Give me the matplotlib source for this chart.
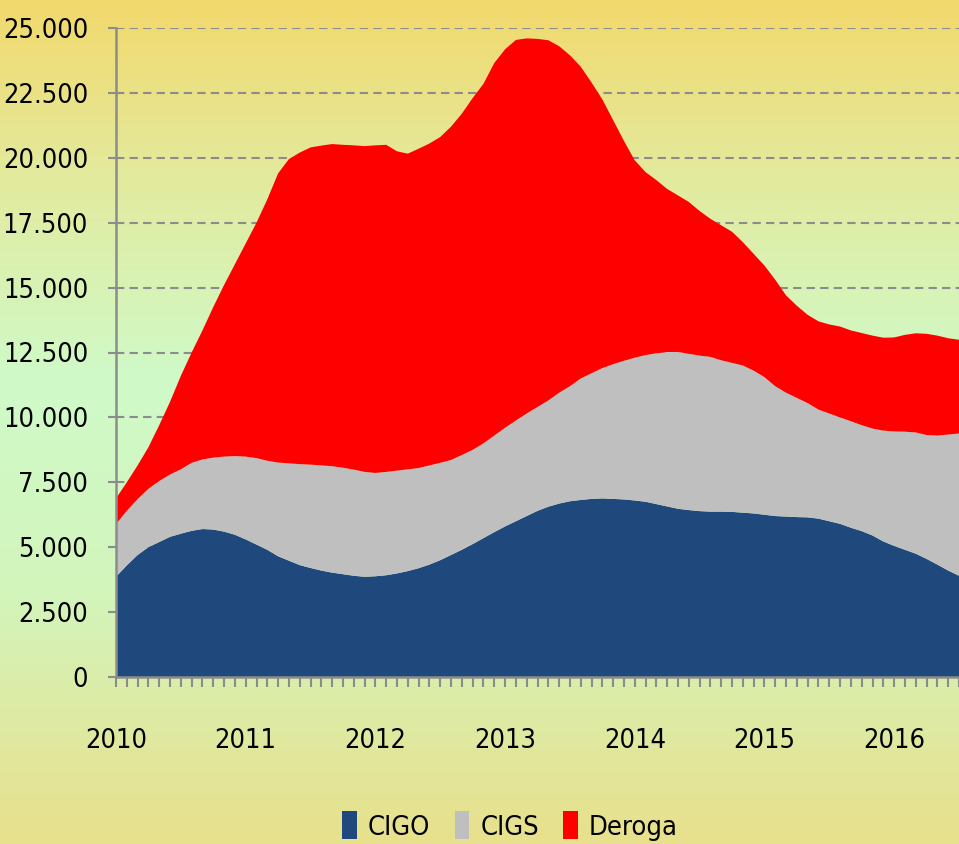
import numpy as np
import matplotlib
matplotlib.use("Agg")
import matplotlib.pyplot as plt
from matplotlib.patches import Patch
from matplotlib.ticker import FixedLocator, FuncFormatter
from matplotlib.colors import LinearSegmentedColormap
from matplotlib import font_manager

# monthly data, Jan 2010 .. Jul 2016
months = np.arange(79)
years = ["2010", "2011", "2012", "2013", "2014", "2015", "2016"]

cigo = [3860, 4300, 4700, 5000, 5200, 5400, 5520, 5630, 5700, 5680,
        5600, 5480, 5300, 5100, 4900, 4650, 4480, 4310, 4200, 4100,
        4020, 3960, 3900, 3860, 3880, 3920, 3990, 4080, 4190, 4330,
        4500, 4700, 4900, 5120, 5350, 5580, 5800, 6000, 6200, 6400,
        6560, 6680, 6770, 6820, 6860, 6880, 6860, 6840, 6800, 6750,
        6660, 6570, 6480, 6430, 6390, 6370, 6370, 6360, 6330, 6300,
        6250, 6200, 6180, 6160, 6150, 6100, 6000, 5900, 5750, 5620,
        5450, 5220, 5050, 4900, 4750, 4550, 4330, 4100, 3900]

cigs = [2030, 2100, 2150, 2250, 2350, 2400, 2480, 2620, 2680, 2770,
        2890, 3030, 3190, 3330, 3430, 3610, 3750, 3890, 3980, 4050,
        4100, 4100, 4090, 4040, 3980, 3980, 3960, 3920, 3860, 3820,
        3750, 3660, 3650, 3630, 3650, 3720, 3800, 3880, 3950, 4000,
        4090, 4270, 4430, 4680, 4840, 5020, 5190, 5340, 5500, 5650,
        5810, 5950, 6040, 6020, 5990, 5960, 5830, 5740, 5670, 5500,
        5300, 5000, 4770, 4590, 4400, 4200, 4150, 4100, 4100, 4080,
        4120, 4270, 4410, 4550, 4670, 4770, 4970, 5240, 5480]

deroga = [990, 1100, 1300, 1600, 2150, 2800, 3600, 4250, 4970, 5800,
          6610, 7390, 8210, 9070, 10070, 11140, 11720, 12000, 12220, 12320,
          12410, 12440, 12490, 12550, 12620, 12600, 12300, 12160, 12300, 12400,
          12550, 12840, 13150, 13550, 13850, 14350, 14580, 14660, 14450, 14180,
          13880, 13350, 12750, 12010, 11200, 10350, 9400, 8470, 7600, 7050,
          6670, 6280, 6030, 5850, 5570, 5320, 5200, 5050, 4750, 4500,
          4300, 4100, 3750, 3550, 3400, 3400, 3430, 3500, 3500, 3550,
          3580, 3580, 3620, 3730, 3820, 3900, 3850, 3710, 3610]

labels = ["CIGO", "CIGS", "Deroga"]
colors = ["#1F497D", "#BFBFBF", "#FF0000"]

# look for a narrow face, the original uses a condensed font
narrow = None
for f in font_manager.fontManager.ttflist:
    tag = (f.name + " " + f.fname).lower()
    if f.style == "normal" and f.weight in (400, "normal", "regular") and \
            ("narrow" in tag or "condensed" in tag or f.stretch in ("condensed", "semi-condensed")):
        if "bold" in tag or "light" in tag or "oblique" in tag or "italic" in tag:
            continue
        narrow = f.fname
        break

if narrow:
    tfont = font_manager.FontProperties(fname=narrow, size=19.5)
else:
    tfont = font_manager.FontProperties(family="Liberation Sans", size=18)

W, H = 959, 844
fig = plt.figure(figsize=(W / 100, H / 100), dpi=100)

# background gradient
bg = fig.add_axes([0, 0, 1, 1], zorder=-10)
cmap = LinearSegmentedColormap.from_list(
    "bg",
    [(0.0, "#F2D96C"), (0.22, "#E2EBA0"), (0.45, "#CFFAC8"),
     (0.70, "#D3F5BC"), (1.0, "#E8E08C")])
bg.imshow(np.linspace(0, 1, 256).reshape(-1, 1), aspect="auto", cmap=cmap,
          extent=[0, 1, 0, 1])
bg.set_axis_off()

ax = fig.add_axes([116 / W, 167 / H, 843 / W, 649 / H])
ax.patch.set_alpha(0)
ax.stackplot(months, cigo, cigs, deroga, colors=colors, labels=labels,
             linewidth=0, zorder=2)

ax.set_xlim(0, 77.5)
ax.set_ylim(0, 25000)

ax.yaxis.set_major_locator(FixedLocator(np.arange(0, 25001, 2500)))
ax.yaxis.set_major_formatter(FuncFormatter(lambda v, p: f"{int(v):,}".replace(",", ".")))
ax.grid(axis="y", color="#8C8C8C", linewidth=1.5, linestyle=(0, (4, 2.5)), zorder=1)
ax.set_axisbelow(True)

ax.set_xticks(months[::12])
ax.set_xticklabels(years)
ax.set_xticks(months, minor=True)

for s in ["top", "right"]:
    ax.spines[s].set_visible(False)
for s in ["left", "bottom"]:
    ax.spines[s].set_color("#8C8C8C")
    ax.spines[s].set_linewidth(1.8)
    ax.spines[s].set_zorder(3)

ax.tick_params(axis="y", length=6, width=1.5, color="#8C8C8C", pad=14)
ax.tick_params(axis="x", which="both", length=7, width=1.5, color="#8C8C8C")
ax.tick_params(axis="x", which="major", pad=30)
for t in ax.get_xticklabels() + ax.get_yticklabels():
    t.set_fontproperties(tfont)

handles = [Patch(facecolor=c, edgecolor="none") for c in colors]
fig.legend(handles, labels, loc="center", bbox_to_anchor=(510 / W, 18 / H),
           ncol=3, frameon=False, prop=tfont, handlelength=0.55,
           handleheight=1.2, handletextpad=0.4, columnspacing=0.9,
           borderaxespad=0)

fig.savefig("out.png", dpi=100)
